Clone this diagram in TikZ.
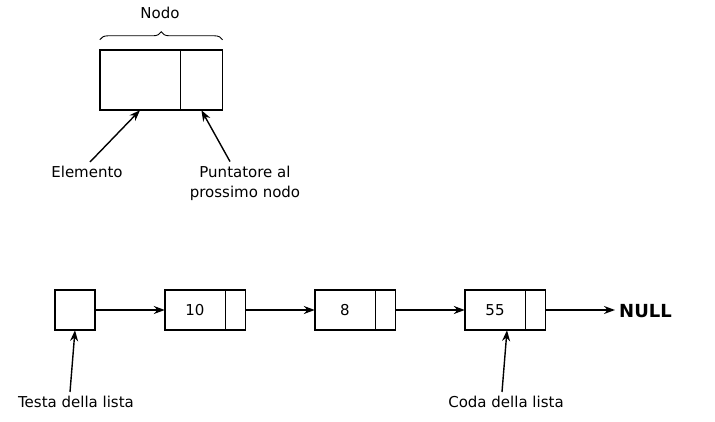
\documentclass[tikz,border=0pt]{standalone}
\usepackage{fontspec}
\setmainfont{DejaVu Sans}
\usepackage{tikz}
\usetikzlibrary{arrows.meta, positioning, decorations.pathreplacing}
\tikzstyle{arrow}=[-{Stealth[length=11pt, width=8pt]}, line width=1.4pt, color=black]
\tikzstyle{outline}=[line width=1.6pt, color=black]
\tikzstyle{divider}=[line width=0.7pt, color=black]

\begin{document}
\begin{tikzpicture}[x=1pt, y=-1pt, node distance=0pt,
  valbox/.style={rectangle, draw=none, minimum width=60pt, minimum height=40pt,
                 inner sep=0pt, font=\fontsize{15}{18}\selectfont},
  ptrbox/.style={rectangle, draw=none, minimum width=20pt, minimum height=40pt,
                 inner sep=0pt},
  textlbl/.style={align=center, inner sep=1pt, font=\fontsize{15}{20}\selectfont}
]
\useasboundingbox (0,0) rectangle (715,422);

% nodo generico
\node[valbox, minimum width=80pt, minimum height=60pt] (nodeval) at (140,80) {};
\node[ptrbox, minimum width=42pt, minimum height=60pt, right=of nodeval] (nodeptr) {};
\draw[outline] (nodeval.north west) rectangle (nodeptr.south east);
\draw[divider] (nodeval.north east) -- (nodeval.south east);
\draw[decorate, decoration={brace, amplitude=8pt}, line width=0.9pt]
  ([yshift=10pt]nodeval.north west) -- ([yshift=10pt]nodeptr.north east);
\node[textlbl] (nodo) at (160,13) {Nodo};
\node[textlbl] (elem) at (87,172) {Elemento};
\node[textlbl] (punt) at (245,183) {Puntatore al\\prossimo nodo};
\draw[arrow] ([xshift=3pt,yshift=3pt]elem.north) -- (nodeval.south);
\draw[arrow] ([xshift=-15pt,yshift=3pt]punt.north) -- (nodeptr.south);

% lista
\node[ptrbox, minimum width=40pt] (head) at (75,310) {};
\draw[outline] (head.north west) rectangle (head.south east);
\node[valbox] (v1) at (195,310) {10};
\node[ptrbox, right=of v1] (p1) {};
\node[valbox] (v2) at (345,310) {8};
\node[ptrbox, right=of v2] (p2) {};
\node[valbox] (v3) at (495,310) {55};
\node[ptrbox, right=of v3] (p3) {};
\foreach \i in {1,2,3} {
  \draw[outline] (v\i.north west) rectangle (p\i.south east);
  \draw[divider] (v\i.north east) -- (v\i.south east);
}
\node[anchor=west, inner sep=0pt, font=\fontsize{18}{22}\selectfont\bfseries] (null) at (619,311) {NULL};

\draw[arrow] (head) -- (v1);
\draw[arrow] (p1) -- (v2);
\draw[arrow] (p2) -- (v3);
\draw[arrow, shorten >=4pt] (p3) -- (p3 -| null.west);

\node[textlbl] (testa) at (76,402) {Testa della lista};
\node[textlbl] (coda) at (506,402) {Coda della lista};
\draw[arrow] ([xshift=-6pt,yshift=3pt]testa.north) -- (head.south);
\draw[arrow] ([xshift=-4pt,yshift=3pt]coda.north) -- ([xshift=12pt]v3.south);
\end{tikzpicture}
\end{document}
